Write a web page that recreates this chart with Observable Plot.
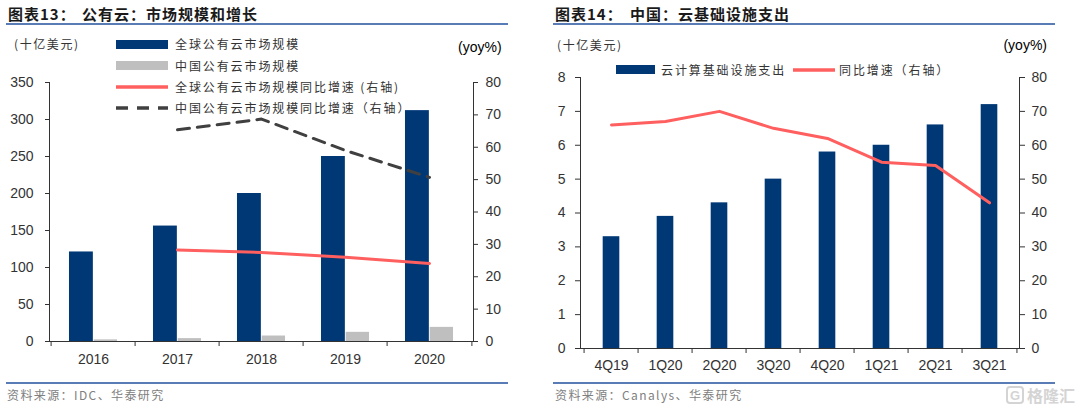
<!DOCTYPE html>
<html>
<head>
<meta charset="utf-8">
<script src="https://cdn.jsdelivr.net/npm/d3@7"></script>
<script src="https://cdn.jsdelivr.net/npm/@observablehq/plot@0.6"></script>
<style>
  html, body { margin: 0; padding: 0; background: #fff; }
  #root { position: relative; width: 1080px; height: 408px; overflow: hidden; background: #fff; }
  .t { position: absolute; white-space: nowrap; line-height: 1; }
  .cjk { font-family: "Noto Sans CJK SC", "Noto Sans", sans-serif; }
  .lat { font-family: "Liberation Sans", Arial, sans-serif; }
  .title { font-size: 15px; font-weight: bold; color: #1a1a1a; letter-spacing: 1px; }
  .leg { font-size: 12px; color: #333; letter-spacing: 1.9px; }
  .unit { font-size: 12px; color: #333; letter-spacing: 1.6px; }
  .src { font-size: 12px; color: #808080; letter-spacing: 1.4px; }
  .rule { position: absolute; height: 1.5px; background: #5a7cb6; }
  .plot { position: absolute; }
  .sw { position: absolute; }
</style>
</head>
<body>
<div id="root"></div>
<script>
// ---------- Data: chart 13 ----------
const years = ["2016", "2017", "2018", "2019", "2020"];
const globalCloud = [121, 156, 200, 250, 312];          // 十亿美元
const chinaCloud = [2.2, 3.9, 7.4, 12.4, 19.1];         // 十亿美元
const globalYoy = [null, 28.3, 27.5, 26.0, 24.1];       // yoy%
const chinaYoy = [null, 65.4, 68.7, 59.0, 50.7];        // yoy%
const leftTicks = [0, 50, 100, 150, 200, 250, 300, 350];
const rightTicks13 = [0, 10, 20, 30, 40, 50, 60, 70, 80];

// ---------- Data: chart 14 ----------
const quarters = ["4Q19", "1Q20", "2Q20", "3Q20", "4Q20", "1Q21", "2Q21", "3Q21"];
const infraSpend = [3.3, 3.9, 4.3, 5.0, 5.8, 6.0, 6.6, 7.2];  // 十亿美元
const infraYoy = [66, 67, 70, 65, 62, 55, 54, 43];            // yoy%
const leftTicks14 = [0, 1, 2, 3, 4, 5, 6, 7, 8];
const rightTicks14 = [0, 10, 20, 30, 40, 50, 60, 70, 80];

const BLUE = "#003876", GRAY = "#bfbfbf", RED = "#ff5f5f", DARK = "#404040", AX = "#333";

const root = document.getElementById("root");
function addText(cls, text, x, y, size, align) {
  const d = document.createElement("div");
  d.className = "t " + cls;
  d.textContent = text;
  d.style.top = (y - size / 2) + "px";
  if (align === "right") d.style.right = (1080 - x) + "px"; else d.style.left = x + "px";
  root.appendChild(d);
  return d;
}
function addRule(x1, x2, y) {
  const d = document.createElement("div");
  d.className = "rule";
  d.style.left = x1 + "px"; d.style.width = (x2 - x1) + "px"; d.style.top = (y - 1) + "px";
  root.appendChild(d);
}
function addSwatch(x, y, w, h, inner) {
  const ns = "http://www.w3.org/2000/svg";
  const s = document.createElementNS(ns, "svg");
  s.setAttribute("width", w); s.setAttribute("height", h);
  s.setAttribute("class", "sw");
  s.style.left = x + "px"; s.style.top = y + "px";
  s.innerHTML = inner;
  root.appendChild(s);
}

// ---------- Chart 13 ----------
{
  const rows = years.map((y, i) => ({year: y, g: globalCloud[i], c: chinaCloud[i], gy: globalYoy[i], cy: chinaYoy[i]}));
  const W = 540, H = 300, mL = 49, mR = 67, mT = 12, mB = 29;
  const bw = (W - mL - mR) / years.length;
  const k = 350 / 80;
  const tick = 5 * 350 / (H - mT - mB);
  const chart = Plot.plot({
    width: W, height: H, marginTop: mT, marginBottom: mB, marginLeft: mL, marginRight: mR,
    style: {fontFamily: "Liberation Sans, Arial, sans-serif", color: AX, background: "transparent", overflow: "visible"},
    x: {domain: years, padding: 0},
    y: {domain: [0, 350]},
    marks: [
      Plot.barY(rows, {x: "year", y: "g", fill: BLUE, insetLeft: bw * 0.212, insetRight: bw * 0.497}),
      Plot.barY(rows, {x: "year", y: "c", fill: GRAY, insetLeft: bw * 0.503, insetRight: bw * 0.212}),
      Plot.line(rows.filter(d => d.gy != null), {x: "year", y: d => d.gy * k, stroke: RED, strokeWidth: 3}),
      Plot.line(rows.filter(d => d.cy != null), {x: "year", y: d => d.cy * k, stroke: DARK, strokeWidth: 3, strokeDasharray: "12,8"}),
      Plot.frame({anchor: "left", stroke: AX}),
      Plot.frame({anchor: "right", stroke: AX}),
      Plot.frame({anchor: "bottom", stroke: AX}),
      Plot.ruleX(years, {x: d => d, dx: -bw / 2, y1: 0, y2: -tick, stroke: AX}),
      Plot.ruleX(years.slice(-1), {x: d => d, dx: bw / 2, y1: 0, y2: -tick, stroke: AX}),
      Plot.axisY({anchor: "left", ticks: leftTicks, tickSize: 4, tickPadding: 12, fontSize: 14, label: null}),
      Plot.axisY({anchor: "right", ticks: rightTicks13.map(v => v * k), tickFormat: d => String(Math.round(d / k)), tickSize: 4, tickPadding: 8, fontSize: 14, label: null}),
      Plot.axisX({tickSize: 0, tickPadding: 13, fontSize: 14, label: null})
    ]
  });
  chart.classList.add("plot");
  chart.style.left = "0px"; chart.style.top = "70px";
  root.appendChild(chart);

  addText("cjk title", "图表13：", 8, 13, 15);
  addText("cjk title", "公有云：市场规模和增长", 82, 13, 15);
  addRule(6, 508, 24);
  addText("cjk unit", "(十亿美元)", 14, 44, 12);
  addText("lat", "(yoy%)", 458, 47, 14).style.fontSize = "14px";
  // legend
  addSwatch(116, 40, 52, 9, `<rect width="52" height="9" fill="${BLUE}"/>`);
  addText("cjk leg", "全球公有云市场规模", 175, 44, 12);
  addSwatch(116, 61, 52, 9, `<rect width="52" height="9" fill="${GRAY}"/>`);
  addText("cjk leg", "中国公有云市场规模", 175, 65.5, 12);
  addSwatch(116, 84, 52, 6, `<line x1="0" x2="52" y1="3" y2="3" stroke="${RED}" stroke-width="3.5"/>`);
  addText("cjk leg", "全球公有云市场规模同比增速 (右轴)", 175, 87, 12);
  addSwatch(116, 105, 52, 6, `<line x1="0" x2="52" y1="3" y2="3" stroke="${DARK}" stroke-width="3.5" stroke-dasharray="12,9"/>`);
  addText("cjk leg", "中国公有云市场规模同比增速（右轴）", 175, 108, 12);
  addRule(6, 508, 383);
  addText("cjk src", "资料来源：IDC、华泰研究", 7, 395, 12);
}

// ---------- Chart 14 ----------
{
  const rows = quarters.map((q, i) => ({q, v: infraSpend[i], y: infraYoy[i]}));
  const W = 540, H = 310, mL = 40, mR = 61, mT = 7, mB = 32;
  const bw = (W - mL - mR) / quarters.length;
  const k = 8 / 80;
  const tick = 5 * 8 / (H - mT - mB);
  const inset = (bw - 17.5) / 2;
  const chart = Plot.plot({
    width: W, height: H, marginTop: mT, marginBottom: mB, marginLeft: mL, marginRight: mR,
    style: {fontFamily: "Liberation Sans, Arial, sans-serif", color: AX, background: "transparent", overflow: "visible"},
    x: {domain: quarters, padding: 0},
    y: {domain: [0, 8]},
    marks: [
      Plot.barY(rows, {x: "q", y: "v", fill: BLUE, insetLeft: inset, insetRight: inset}),
      Plot.line(rows, {x: "q", y: d => d.y * k, stroke: RED, strokeWidth: 3}),
      Plot.frame({anchor: "left", stroke: AX}),
      Plot.frame({anchor: "right", stroke: AX}),
      Plot.frame({anchor: "bottom", stroke: AX}),
      Plot.ruleX(quarters, {x: d => d, dx: -bw / 2, y1: 0, y2: -tick, stroke: AX}),
      Plot.ruleX(quarters.slice(-1), {x: d => d, dx: bw / 2, y1: 0, y2: -tick, stroke: AX}),
      Plot.axisY({anchor: "left", ticks: leftTicks14, tickSize: 5, tickPadding: 10, fontSize: 14, label: null}),
      Plot.axisY({anchor: "right", ticks: rightTicks14.map(v => v * k), tickFormat: d => String(Math.round(d / k)), tickSize: 5, tickPadding: 7, fontSize: 14, label: null}),
      Plot.axisX({tickSize: 0, tickPadding: 12, fontSize: 14, label: null})
    ]
  });
  chart.classList.add("plot");
  chart.style.left = "540px"; chart.style.top = "70px";
  root.appendChild(chart);

  addText("cjk title", "图表14：", 555, 13, 15);
  addText("cjk title", "中国：云基础设施支出", 630, 13, 15);
  addRule(553, 1055, 24);
  addText("cjk unit", "(十亿美元)", 557, 45, 12);
  addText("lat", "(yoy%)", 1047, 45, 14, "right").style.fontSize = "14px";
  addSwatch(616, 65, 39, 9, `<rect width="39" height="9" fill="${BLUE}"/>`);
  addText("cjk leg", "云计算基础设施支出", 661, 69.5, 12);
  addSwatch(793, 67, 42, 6, `<line x1="0" x2="42" y1="3" y2="3" stroke="${RED}" stroke-width="3.5"/>`);
  addText("cjk leg", "同比增速（右轴）", 839, 69.5, 12);
  addRule(553, 1055, 383);
  addText("cjk src", "资料来源：Canalys、华泰研究", 555, 395, 12);
  // watermark
  addSwatch(1006, 386, 18, 18, `<rect x="1" y="1" width="16" height="16" rx="3" fill="none" stroke="#d4d4d4" stroke-width="2"/><text x="9" y="14" text-anchor="middle" font-family="Liberation Sans" font-weight="bold" font-size="13" fill="#d4d4d4">G</text>`);
  const wm = addText("cjk", "格隆汇", 1027, 395, 16);
  wm.style.fontSize = "16px"; wm.style.color = "#d4d4d4"; wm.style.fontWeight = "bold";
}
</script>
</body>
</html>
